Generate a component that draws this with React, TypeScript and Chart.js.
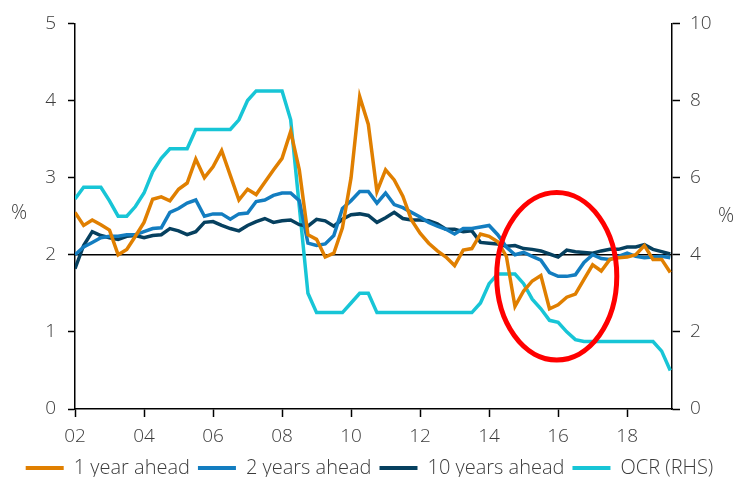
import React, { useEffect, useRef } from 'react';
import { Chart, registerables } from 'chart.js';

Chart.register(...registerables);

// Quarterly observations, first quarter of 2002 onwards
const START_YEAR = 2002;
const STEP = 0.25;

// Inflation expectations, % (left axis)
const oneYearAhead = [
  2.55, 2.38, 2.45, 2.39, 2.32, 2.0, 2.07, 2.24, 2.42, 2.72,
  2.75, 2.7, 2.85, 2.93, 3.24, 3.0, 3.14, 3.35, 3.03, 2.71,
  2.85, 2.78, 2.94, 3.1, 3.25, 3.6, 3.1, 2.26, 2.2, 1.97,
  2.02, 2.35, 3.0, 4.05, 3.69, 2.82, 3.1, 2.97, 2.76, 2.45,
  2.28, 2.15, 2.05, 1.97, 1.86, 2.06, 2.08, 2.27, 2.24, 2.17,
  1.98, 1.33, 1.53, 1.66, 1.73, 1.3, 1.35, 1.45, 1.49, 1.68,
  1.87, 1.79, 1.94, 1.96, 1.97, 2.0, 2.12, 1.94, 1.94, 1.77,
];
const twoYearsAhead = [
  2.0, 2.1, 2.16, 2.22, 2.24, 2.24, 2.26, 2.26, 2.3, 2.34,
  2.35, 2.55, 2.6, 2.67, 2.71, 2.5, 2.53, 2.53, 2.46, 2.53,
  2.54, 2.69, 2.71, 2.77, 2.8, 2.8, 2.7, 2.15, 2.12, 2.14,
  2.25, 2.6, 2.7, 2.82, 2.82, 2.67, 2.8, 2.65, 2.61, 2.55,
  2.49, 2.42, 2.37, 2.33, 2.27, 2.34, 2.34, 2.36, 2.38, 2.26,
  2.1, 2.0, 2.03, 1.98, 1.93, 1.77, 1.72, 1.72, 1.74, 1.9,
  2.0, 1.95, 1.94, 1.98, 2.02, 1.98, 1.96, 1.97, 1.98, 1.96,
];
const tenYearsAhead = [
  1.82, 2.12, 2.3, 2.25, 2.22, 2.2, 2.24, 2.25, 2.22, 2.25,
  2.26, 2.34, 2.31, 2.26, 2.3, 2.42, 2.43, 2.38, 2.34, 2.31,
  2.38, 2.43, 2.47, 2.42, 2.44, 2.45, 2.39, 2.37, 2.46, 2.44,
  2.37, 2.46, 2.52, 2.53, 2.51, 2.42, 2.48, 2.55, 2.47, 2.45,
  2.45, 2.44, 2.4, 2.33, 2.33, 2.3, 2.31, 2.16, 2.15, 2.14,
  2.11, 2.12, 2.08, 2.07, 2.05, 2.01, 1.97, 2.06, 2.04, 2.03,
  2.02, 2.05, 2.07, 2.07, 2.1, 2.1, 2.13, 2.07, 2.04, 2.01,
];

// Official Cash Rate, % (right axis)
const ocr = [
  5.45, 5.75, 5.75, 5.75, 5.4, 5.0, 5.0, 5.25, 5.6, 6.15,
  6.5, 6.75, 6.75, 6.75, 7.25, 7.25, 7.25, 7.25, 7.25, 7.5,
  8.0, 8.25, 8.25, 8.25, 8.25, 7.5, 5.25, 3.0, 2.5, 2.5,
  2.5, 2.5, 2.75, 3.0, 3.0, 2.5, 2.5, 2.5, 2.5, 2.5,
  2.5, 2.5, 2.5, 2.5, 2.5, 2.5, 2.5, 2.75, 3.25, 3.5,
  3.5, 3.5, 3.25, 2.85, 2.6, 2.3, 2.25, 2.0, 1.8, 1.75,
  1.75, 1.75, 1.75, 1.75, 1.75, 1.75, 1.75, 1.75, 1.5, 1.0,
];

const X_MIN = 2002;
const X_MAX = 2019.3;
const X_TICKS = [2002, 2004, 2006, 2008, 2010, 2012, 2014, 2016, 2018];
const X_TICK_LABELS = ['02', '04', '06', '08', '10', '12', '14', '16', '18'];

const SERIES_LABELS = ['1 year ahead', '2 years ahead', '10 years ahead', 'OCR (RHS)'];
const TARGET_MIDPOINT = 2;

// Circled period around 2016
const HIGHLIGHT_CENTRE = { year: 2015.96, value: 1.72 };
const HIGHLIGHT_RADIUS = { years: 1.74, value: 1.086 };

const COLORS = {
  oneYear: '#E07F00',
  twoYears: '#137DC0',
  tenYears: '#06405F',
  ocr: '#17C5D6',
  text: '#3c3c3c',
  axis: '#000000',
  highlight: '#FF0000',
};

const FONT_FAMILY = "'Open Sans', 'DejaVu Sans', sans-serif";
const FONT_WEIGHT = '300';

const toPoints = (values: number[]) =>
  values.map((v, i) => ({ x: START_YEAR + i * STEP, y: v }));

const overlayPlugin = {
  id: 'overlay',
  afterDatasetsDraw(chart: any) {
    const { ctx, chartArea, scales } = chart;
    const xs = scales.x;
    const ys = scales.y;
    const cx = xs.getPixelForValue(HIGHLIGHT_CENTRE.year);
    const cy = ys.getPixelForValue(HIGHLIGHT_CENTRE.value);
    const rx = Math.abs(xs.getPixelForValue(HIGHLIGHT_CENTRE.year + HIGHLIGHT_RADIUS.years) - cx);
    const ry = Math.abs(ys.getPixelForValue(HIGHLIGHT_CENTRE.value + HIGHLIGHT_RADIUS.value) - cy);
    ctx.save();
    ctx.beginPath();
    ctx.ellipse(cx, cy, rx, ry, 0, 0, Math.PI * 2);
    ctx.strokeStyle = COLORS.highlight;
    ctx.lineWidth = 5;
    ctx.stroke();

    const mid = (chartArea.top + chartArea.bottom) / 2;
    ctx.fillStyle = COLORS.text;
    ctx.font = `${FONT_WEIGHT} 20px ${FONT_FAMILY}`;
    ctx.textAlign = 'center';
    ctx.textBaseline = 'middle';
    ctx.fillText('%', chartArea.left - 56, mid - 3);
    ctx.fillText('%', chartArea.right + 54, mid);
    ctx.restore();
  },
};

export default function App() {
  const canvasRef = useRef<HTMLCanvasElement | null>(null);

  useEffect(() => {
    if (!canvasRef.current) return;
    const tickFont = { family: FONT_FAMILY, size: 19, weight: FONT_WEIGHT };
    const axisGrid = (tickLength: number) => ({
      display: true,
      drawOnChartArea: false,
      drawTicks: true,
      tickLength,
      tickColor: COLORS.axis,
      tickWidth: 1.5,
    });
    const axisBorder = { display: true, color: COLORS.axis, width: 1.5 };

    const line = (label: string, values: number[], color: string, axis: string) => ({
      label,
      data: toPoints(values),
      borderColor: color,
      backgroundColor: color,
      borderWidth: 3.5,
      pointRadius: 0,
      tension: 0,
      yAxisID: axis,
    });

    const chart = new Chart(canvasRef.current, {
      type: 'line',
      data: {
        datasets: [
          line(SERIES_LABELS[0], oneYearAhead, COLORS.oneYear, 'y'),
          line(SERIES_LABELS[1], twoYearsAhead, COLORS.twoYears, 'y'),
          line(SERIES_LABELS[2], tenYearsAhead, COLORS.tenYears, 'y'),
          line(SERIES_LABELS[3], ocr, COLORS.ocr, 'y2'),
          {
            label: 'target',
            data: [
              { x: X_MIN, y: TARGET_MIDPOINT },
              { x: X_MAX, y: TARGET_MIDPOINT },
            ],
            borderColor: '#000000',
            backgroundColor: '#000000',
            borderWidth: 1.5,
            pointRadius: 0,
            yAxisID: 'y',
          },
        ],
      },
      options: {
        responsive: false,
        animation: false,
        events: [],
        layout: { padding: { top: 20, right: 0, bottom: -11, left: 0 } },
        plugins: {
          tooltip: { enabled: false },
          legend: {
            position: 'bottom',
            labels: {
              font: { family: FONT_FAMILY, size: 20, weight: FONT_WEIGHT },
              color: COLORS.text,
              boxWidth: 38,
              boxHeight: 4,
              padding: 8,
              generateLabels: (c: any) =>
                Chart.defaults.plugins.legend.labels
                  .generateLabels(c)
                  .filter((item: any) => item.datasetIndex < 4)
                  .map((item: any) => ({ ...item, lineWidth: 0 })),
            },
          },
        },
        scales: {
          x: {
            type: 'linear',
            min: X_MIN,
            max: X_MAX,
            afterBuildTicks: (s: any) => {
              s.ticks = X_TICKS.map((v) => ({ value: v }));
            },
            afterFit: (s: any) => {
              s.height = 41;
            },
            ticks: {
              autoSkip: false,
              maxRotation: 0,
              padding: 8,
              color: COLORS.text,
              font: tickFont,
              callback: (v: any) => {
                const idx = X_TICKS.indexOf(Number(v));
                return idx >= 0 ? X_TICK_LABELS[idx] : '';
              },
            },
            grid: axisGrid(8),
            border: axisBorder,
          },
          y: {
            position: 'left',
            min: 0,
            max: 5,
            afterFit: (s: any) => {
              s.width = 75;
            },
            ticks: { stepSize: 1, padding: 12, color: COLORS.text, font: tickFont },
            grid: axisGrid(7),
            border: axisBorder,
          },
          y2: {
            position: 'right',
            min: 0,
            max: 10,
            afterFit: (s: any) => {
              s.width = 67;
            },
            ticks: { stepSize: 2, padding: 10, color: COLORS.text, font: tickFont },
            grid: axisGrid(8),
            border: axisBorder,
          },
        },
      },
      plugins: [overlayPlugin],
    } as any);

    return () => chart.destroy();
  }, []);

  return (
    <div style={{ position: 'fixed', left: 0, top: 0, width: 739, height: 477, background: '#ffffff' }}>
      <canvas ref={canvasRef} width={739} height={477} />
    </div>
  );
}
